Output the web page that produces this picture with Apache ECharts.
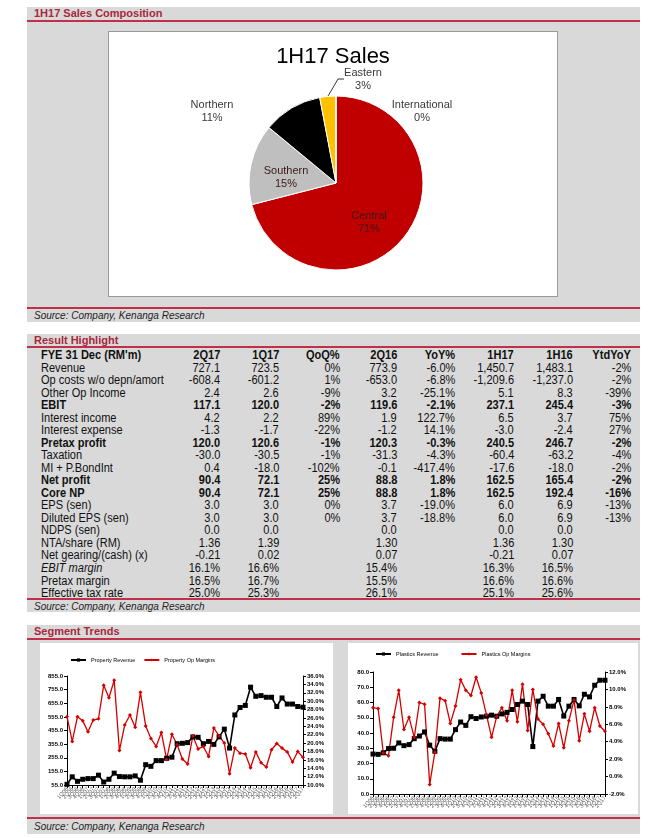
<!DOCTYPE html>
<html><head><meta charset="utf-8">
<script src="https://cdn.jsdelivr.net/npm/echarts@6/dist/echarts.min.js"></script>
<style>
body{margin:0;background:#fff;font-family:"Liberation Sans",Arial,sans-serif;}
#page{position:relative;width:658px;height:838px;overflow:hidden;background:#fff;}
.panel{position:absolute;left:27px;width:613px;background:#d9d9d9;}
.hdr{position:absolute;left:34px;font-weight:bold;font-size:11px;color:#a8283c;line-height:12px;}
.rl{position:absolute;left:27px;width:613px;height:2px;background:#c0304b;}
.src{position:absolute;left:34px;font-style:italic;font-size:10px;color:#222;line-height:11px;}
.box{position:absolute;background:#fff;}
.cell{position:absolute;font-size:12px;line-height:12px;color:#111;white-space:nowrap;transform:scaleX(0.92);}
.cl{transform-origin:left center;}
.cr{transform-origin:right center;}
</style></head>
<body><div id="page">
  <div class="panel" style="top:7px;height:315px"></div>
  <div class="hdr" style="top:7px">1H17 Sales Composition</div>
  <div class="rl" style="top:20px"></div>
  <div class="box" id="pie" style="left:108px;top:31px;width:448px;height:264px;border:1px solid #9a9a9a;"></div>
  <div class="rl" style="top:307px"></div>
  <div class="src" style="top:310px">Source: Company, Kenanga Research</div>

  <div class="panel" style="top:334px;height:278px"></div>
  <div class="hdr" style="top:334px">Result Highlight</div>
  <div class="rl" style="top:346px"></div>
  <div id="tbl"></div>
  <div class="rl" style="top:598px"></div>
  <div class="src" style="top:601px">Source: Company, Kenanga Research</div>

  <div class="panel" style="top:625px;height:209px"></div>
  <div class="hdr" style="top:625px">Segment Trends</div>
  <div class="rl" style="top:638px"></div>
  <div class="box" id="c1" style="left:40px;top:643px;width:293px;height:171px;"></div>
  <div class="box" id="c2" style="left:348px;top:643px;width:290px;height:171px;"></div>
  <div class="rl" style="top:817px"></div>
  <div class="src" style="top:821px">Source: Company, Kenanga Research</div>
</div>
<script>
// ---------- Pie data ----------
const pieNames = ['Central','Southern','Northern','Eastern','International'];
const pieValues = [71, 15, 11, 3, 0];
const pieColors = ['#c00000','#bfbfbf','#000000','#ffc000','#4472c4'];

// ---------- Table data ----------
const tblHeader = ["FYE 31 Dec (RM'm)",'2Q17','1Q17','QoQ%','2Q16','YoY%','1H17','1H16','YtdYoY'];
const rowLabels = ['Revenue','Op costs w/o depn/amort','Other Op Income','EBIT','Interest income','Interest expense','Pretax profit','Taxation','MI + P.BondInt','Net profit','Core NP','EPS (sen)','Diluted EPS (sen)','NDPS (sen)','NTA/share (RM)','Net gearing/(cash) (x)','EBIT margin','Pretax margin','Effective tax rate'];
const col2Q17 = ['727.1','-608.4','2.4','117.1','4.2','-1.3','120.0','-30.0','0.4','90.4','90.4','3.0','3.0','0.0','1.36','-0.21','16.1%','16.5%','25.0%'];
const col1Q17 = ['723.5','-601.2','2.6','120.0','2.2','-1.7','120.6','-30.5','-18.0','72.1','72.1','3.0','3.0','0.0','1.39','0.02','16.6%','16.7%','25.3%'];
const colQoQ  = ['0%','1%','-9%','-2%','89%','-22%','-1%','-1%','-102%','25%','25%','0%','0%','','','','','',''];
const col2Q16 = ['773.9','-653.0','3.2','119.6','1.9','-1.2','120.3','-31.3','-0.1','88.8','88.8','3.7','3.7','0.0','1.30','0.07','15.4%','15.5%','26.1%'];
const colYoY  = ['-6.0%','-6.8%','-25.1%','-2.1%','122.7%','14.1%','-0.3%','-4.3%','-417.4%','1.8%','1.8%','-19.0%','-18.8%','','','','','',''];
const col1H17 = ['1,450.7','-1,209.6','5.1','237.1','6.5','-3.0','240.5','-60.4','-17.6','162.5','162.5','6.0','6.0','0.0','1.36','-0.21','16.3%','16.6%','25.1%'];
const col1H16 = ['1,483.1','-1,237.0','8.3','245.4','3.7','-2.4','246.7','-63.2','-18.0','165.4','192.4','6.9','6.9','0.0','1.30','0.07','16.5%','16.6%','25.6%'];
const colYtd  = ['-2%','-2%','-39%','-3%','75%','27%','-2%','-4%','-2%','-2%','-16%','-13%','-13%','','','','','',''];
const boldRows = ['EBIT','Pretax profit','Net profit','Core NP'];
const italicRows = ['EBIT margin'];

// ---------- Segment trend data (quarterly) ----------
const quarters = [];
for (let y = 6; y <= 17; y++) for (let q = 1; q <= 4; q++) { if (y === 17 && q > 2) break; quarters.push(q + 'Q' + String(y).padStart(2,'0')); }
const propRevenue = [60,115,82,97,102,102,127,77,97,142,117,115,115,122,90,204,192,234,234,251,259,358,361,366,408,405,358,375,353,408,465,326,569,624,639,773,706,711,699,699,631,694,649,649,631,626];
const propMargin = [26.3,20.4,26.3,25.3,22.7,25.5,25.8,33.8,30.8,35.0,18.2,24.3,26.7,23.8,32.1,24.1,21.1,19.2,22.5,16.1,22.1,19.6,16.2,15.0,21.7,18.6,19.2,16.8,23.6,21.7,20.0,12.7,18.8,17.6,17.4,14.1,17.9,15.3,14.3,18.4,19.9,18.8,17.9,15.5,18.0,16.6];
const plasRevenue = [26.2,26.0,27.0,29.8,30.0,33.5,31.7,32.4,36.3,38.0,40.7,32.0,28.0,36.3,36.0,36.0,42.2,47.2,45.0,50.7,49.5,50.5,51.0,51.7,51.0,52.5,53.5,55.4,58.7,60.9,58.7,31.1,60.9,64.1,57.6,57.6,62.0,51.1,57.6,62.0,57.8,65.4,63.7,71.3,74.6,74.6];
const plasMargin = [7.9,7.8,2.7,2.4,6.8,9.9,5.4,6.8,4.5,8.5,8.3,-0.9,2.8,9.0,8.7,6.1,8.1,11.1,9.9,9.3,11.4,9.6,7.1,4.5,6.9,7.9,6.4,9.9,6.3,10.6,5.3,10.0,6.6,6.0,4.9,3.5,6.1,3.3,6.4,8.8,4.1,7.2,5.2,7.9,5.8,5.2];
const propRevTicks = [55,155,255,355,455,555,655,755,855];

// ---------- Build table ----------
const colRight = [220,279,340,397,455,514,573,631];
const cols = [col2Q17,col1Q17,colQoQ,col2Q16,colYoY,col1H17,col1H16,colYtd];
const tbl = document.getElementById('tbl');
function addCell(text, left, right, top, bold, italic){
  const d = document.createElement('div'); d.className = 'cell ' + (left != null ? 'cl' : 'cr'); d.textContent = text;
  d.style.top = top + 'px';
  if (left != null) d.style.left = left + 'px'; else d.style.right = (658 - right) + 'px';
  if (bold) d.style.fontWeight = 'bold'; if (italic) d.style.fontStyle = 'italic';
  tbl.appendChild(d);
}
const rowTop0 = 349, rowH = 12.53;
addCell(tblHeader[0], 41, null, rowTop0, true);
for (let c = 0; c < 8; c++) addCell(tblHeader[c+1], null, colRight[c], rowTop0, true);
rowLabels.forEach((lab, r) => {
  const top = rowTop0 + (r+1)*rowH;
  const b = boldRows.includes(lab), it = italicRows.includes(lab);
  addCell(lab, 41, null, top, b, it);
  cols.forEach((col, c) => { if (col[r]) addCell(col[r], null, colRight[c], top, b, false); });
});

// ---------- Pie ----------
const labelPos = {0:[260,190], 1:[177,145], 2:[103,79], 3:[254,47], 4:[313,79]};
const pie = echarts.init(document.getElementById('pie'), null, {renderer:'canvas'});
pie.setOption({
  animation:false,
  title:{text:'1H17 Sales', left:'center', top:9, textStyle:{fontFamily:'Liberation Sans', fontSize:22, fontWeight:'normal', color:'#000'}},
  series:[{
    type:'pie', center:[227,151], radius:87, startAngle:90, clockwise:true,
    itemStyle:{borderColor:'#fff', borderWidth:1},
    label:{show:true, position:'outside', color:'#3a3a3a', fontSize:11, lineHeight:13, fontFamily:'Liberation Sans', align:'center',
      formatter: p => p.name + '\n' + Math.round(p.percent) + '%'},
    labelLine:{show:true, length:8, length2:6, lineStyle:{color:'#000', width:0.8}},
    labelLayout: function(p){ const pos = labelPos[p.dataIndex]; if(!pos) return {}; return {x:pos[0], y:pos[1], align:'center', verticalAlign:'middle'}; },
    data: pieNames.map((n,i)=>({name:n, value:pieValues[i], itemStyle:{color:pieColors[i]},
      label: (i<2)?{position:'inside', color:'#3a1a1a'}:{},
      labelLine:{show: i===3}}))
  }]
});

// ---------- Line charts ----------
function lineOpt(o){
  const axisLine = {show:true, lineStyle:{color:'#000', width:1}};
  return {
    animation:false,
    legend:{left:o.legendLeft, top:o.legendTop, itemWidth:15, itemHeight:4, itemGap:o.legendGap,
      textStyle:{fontSize:5.5, color:'#000', fontFamily:'Liberation Sans'}, data:[o.names[0], o.names[1]]},
    grid:o.grid,
    xAxis:{type:'category', data:quarters, boundaryGap:false,
      axisLine:axisLine, axisTick:{show:true, interval:0, length:3, lineStyle:{color:'#000'}},
      axisLabel:{interval:0, rotate:50, fontSize:5.5, color:'#555', margin:3}},
    yAxis:[
      Object.assign({type:'value', position:'left', splitLine:{show:false}, axisLine:axisLine,
        axisTick:{show:true, length:3, lineStyle:{color:'#000'}},
        axisLabel:{fontSize:6, fontWeight:'bold', color:'#000', margin:4, formatter:v=>v.toFixed(1)}}, o.y0),
      Object.assign({type:'value', position:'right', splitLine:{show:false}, axisLine:axisLine,
        axisTick:{show:true, length:3, lineStyle:{color:'#000'}},
        axisLabel:{fontSize:6, fontWeight:'bold', color:'#000', margin:4, formatter:v=>v.toFixed(1)+'%'}}, o.y1)
    ],
    series:[
      {name:o.names[0], type:'line', data:o.rev, yAxisIndex:0, symbol:'rect', symbolSize:5,
        lineStyle:{color:'#000', width:1.6}, itemStyle:{color:'#000'}},
      {name:o.names[1], type:'line', data:o.mar, yAxisIndex:1, symbol:'diamond', symbolSize:4,
        lineStyle:{color:'#d40000', width:1.3}, itemStyle:{color:'#d40000'}}
    ]
  };
}
const c1 = echarts.init(document.getElementById('c1'));
c1.setOption(lineOpt({
  names:['Property Revenue','Property Op Margins'], rev:propRevenue, mar:propMargin,
  legendLeft:25, legendTop:9, legendGap:8,
  grid:{left:27, right:30, top:33, bottom:29},
  y0:{min:55, max:855, axisLabel:{fontSize:6, fontWeight:'bold', color:'#000', margin:4, formatter:v=>v.toFixed(1), customValues:propRevTicks}, axisTick:{show:true, length:3, lineStyle:{color:'#000'}, customValues:propRevTicks}},
  y1:{min:10, max:36, interval:2}
}));
const c2 = echarts.init(document.getElementById('c2'));
c2.setOption(lineOpt({
  names:['Plastics Revenue','Plastics Op Margins'], rev:plasRevenue, mar:plasMargin,
  legendLeft:22, legendTop:3, legendGap:22,
  grid:{left:25, right:33, top:29, bottom:20},
  y0:{min:0, max:80, interval:10},
  y1:{min:-2, max:12, interval:2}
}));
</script>
</body></html>
